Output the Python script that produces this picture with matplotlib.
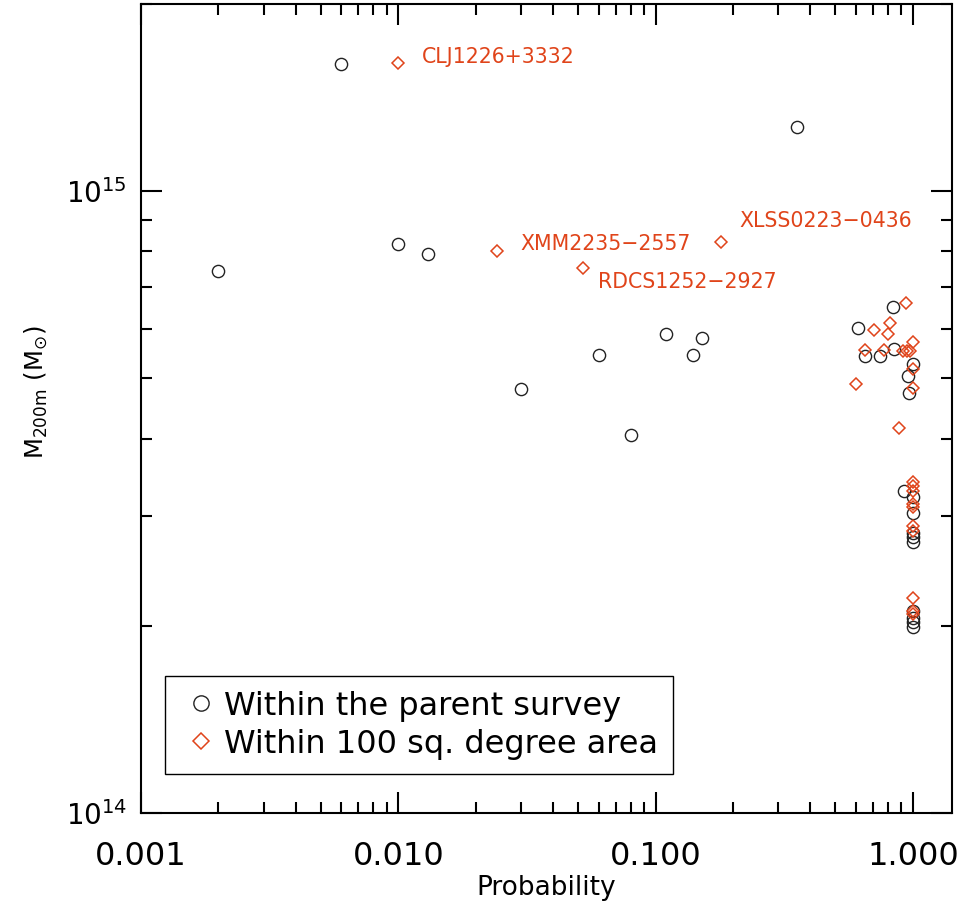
import numpy as np
import matplotlib
matplotlib.use("Agg")
import matplotlib.pyplot as plt
from matplotlib.ticker import FixedLocator, FuncFormatter, NullFormatter
from matplotlib.lines import Line2D

# ------------------------------------------------------------------
# Datos
# ------------------------------------------------------------------

# Círculos: cúmulos dentro del survey original
prob_parent = [0.002, 0.006, 0.010, 0.013, 0.030, 0.060, 0.080, 0.110, 0.140, 0.151, 0.353,
               0.835, 0.614, 0.652, 0.746, 0.847, 1.0, 0.955, 0.969,
               0.927, 1.0, 1.0, 1.0, 1.0, 1.0, 1.0, 1.0, 1.0, 1.0]
mass_parent = [7.43e14, 1.60e15, 8.22e14, 7.92e14, 4.80e14, 5.45e14, 4.06e14, 5.89e14, 5.45e14, 5.80e14, 1.27e15,
               6.52e14, 6.02e14, 5.43e14, 5.43e14, 5.58e14, 5.27e14, 5.04e14, 4.73e14,
               3.29e14, 3.22e14, 3.04e14, 2.82e14, 2.78e14, 2.73e14, 2.11e14, 2.06e14, 2.03e14, 1.99e14]

# Rombos: cúmulos dentro del área de 100 grados cuadrados
prob_area = [0.010, 0.0242, 0.052, 0.18,
             0.941, 0.704, 0.816, 0.798, 0.652, 0.770, 0.913, 0.946, 0.977,
             1.0, 1.0, 0.602, 1.0, 0.886,
             1.0, 1.0, 1.0, 1.0, 1.0, 1.0, 1.0, 1.0, 1.0, 1.0]
mass_area = [1.61e15, 8.00e14, 7.52e14, 8.29e14,
             6.62e14, 5.97e14, 6.14e14, 5.90e14, 5.55e14, 5.55e14, 5.53e14, 5.53e14, 5.53e14,
             5.71e14, 5.17e14, 4.89e14, 4.82e14, 4.16e14,
             3.41e14, 3.36e14, 3.30e14, 3.14e14, 3.11e14, 2.89e14, 2.84e14, 2.22e14, 2.11e14, 2.09e14]

# Etiquetas de cúmulos conocidos (índices en prob_area) y desplazamientos en puntos
names = ["CLJ1226+3332", "XMM2235\u22122557", "RDCS1252\u22122927", "XLSS0223\u22120436"]
name_idx = [0, 1, 2, 3]
name_offsets = [(17, 4), (17, 5), (11, -10), (13, 15)]

x_ticks = [0.001, 0.01, 0.1, 1.0]
legend_labels = ["Within the parent survey", "Within 100 sq. degree area"]

red = "#E0441A"

plt.rcParams['font.family'] = ['DejaVu Sans']
plt.rcParams['mathtext.fontset'] = 'dejavusans'

fig = plt.figure(figsize=(9.64, 9.15), dpi=100)
ax = fig.add_axes([0.1463, 0.1115, 0.8413, 0.8842])

ax.plot(prob_parent, mass_parent, linestyle='none', marker='o', ms=8.8,
        mfc='none', mec='#222222', mew=1.0)
ax.plot(prob_area, mass_area, linestyle='none', marker='D', ms=6.0,
        mfc='none', mec=red, mew=1.1)

for name, i, off in zip(names, name_idx, name_offsets):
    ax.annotate(name, (prob_area[i], mass_area[i]), xytext=off,
                textcoords='offset points', color=red, fontsize=14.8,
                ha='left', va='center')

ax.set_xscale('log')
ax.set_yscale('log')
ax.set_xlim(0.001, 1.42)
ax.set_ylim(1e14, 2e15)

ax.xaxis.set_major_locator(FixedLocator(x_ticks))
ax.xaxis.set_major_formatter(FuncFormatter(lambda v, p: f"{v:.3f}"))
ax.xaxis.set_minor_formatter(NullFormatter())
ax.yaxis.set_minor_formatter(NullFormatter())

ax.tick_params(which='both', direction='in', top=True, right=True, width=1.5)
ax.tick_params(which='major', length=15)
ax.tick_params(which='minor', length=8)
ax.tick_params(axis='x', which='major', labelsize=23, pad=20)
ax.tick_params(axis='y', which='major', labelsize=20, pad=10)
for s in ax.spines.values():
    s.set_linewidth(1.5)

ax.set_xlabel("Probability", fontsize=19, labelpad=2)
ax.set_ylabel(r"$\mathregular{M_{200m}\ (M_{\odot})}$", fontsize=17.5)
ax.yaxis.set_label_coords(-0.112, 0.52)

handles = [Line2D([], [], linestyle='none', marker='o', ms=11, mfc='none', mec='#222222', mew=1.0),
           Line2D([], [], linestyle='none', marker='D', ms=8, mfc='none', mec=red, mew=1.1)]
leg = ax.legend(handles, legend_labels, loc='lower left', bbox_to_anchor=(0.0296, 0.0482),
                borderaxespad=0, fontsize=23, frameon=True, fancybox=False,
                edgecolor='black', framealpha=1, handlelength=1.35, handletextpad=0.05,
                borderpad=0.45, labelspacing=0.22)
leg.get_frame().set_linewidth(1.0)

fig.savefig("out.png", dpi=100)
